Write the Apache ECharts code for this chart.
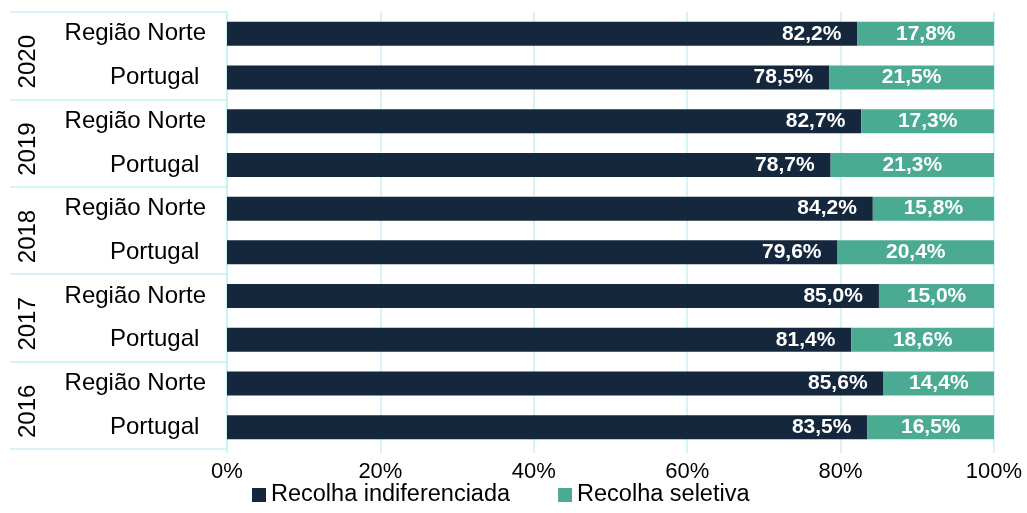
<!DOCTYPE html>
<html>
<head>
<meta charset="utf-8">
<script src="https://cdn.jsdelivr.net/npm/echarts@6/dist/echarts.min.js"></script>
<style>html,body{margin:0;padding:0;background:#fff}#c{width:1027px;height:513px}</style>
</head>
<body>
<div id="c"></div>
<script>
var categories = ['Região Norte','Portugal ','Região Norte','Portugal ','Região Norte','Portugal ','Região Norte','Portugal ','Região Norte','Portugal '];
var years = ['2020','2019','2018','2017','2016'];
var indiferenciada = [82.2,78.5,82.7,78.7,84.2,79.6,85.0,81.4,85.6,83.5];
var seletiva = [17.8,21.5,17.3,21.3,15.8,20.4,15.0,18.6,14.4,16.5];
var xTicks = [0,20,40,60,80,100];

var FONT = '"Liberation Sans"';
var GRID = '#c6f2f5';
function fmt(p){ return p.value.toFixed(1).replace('.', ',') + '%'; }

var chart = echarts.init(document.getElementById('c'));
chart.setOption({
  animation: false,
  textStyle: {fontFamily: FONT},
  grid: {left: 227, right: 33, top: 12, bottom: 64},
  legend: {
    bottom: 1, left: 247,
    itemWidth: 14, itemHeight: 14, itemGap: 48,
    icon: 'rect',
    textStyle: {fontSize: 23.5, color: '#000', fontFamily: FONT},
    data: ['Recolha indiferenciada','Recolha seletiva']
  },
  xAxis: {
    type: 'value', min: xTicks[0], max: xTicks[xTicks.length-1], interval: 20,
    axisLine: {show: false},
    axisTick: {show: true, length: 4, lineStyle: {color: GRID, width: 1.5}},
    splitLine: {show: true, lineStyle: {color: GRID, width: 1.5}},
    axisLabel: {formatter: '{value}%', fontSize: 22, color: '#000', margin: 12, fontFamily: FONT}
  },
  yAxis: [{
    type: 'category', data: categories, inverse: true,
    axisLine: {show: true, lineStyle: {color: GRID, width: 1.5}},
    axisTick: {show: false},
    axisLabel: {fontSize: 24, color: '#000', margin: 21, fontFamily: FONT}
  }, {
    type: 'category', data: years, inverse: true, position: 'left',
    axisLine: {show: false},
    axisTick: {show: true, length: 217, lineStyle: {color: GRID, width: 1.5}},
    axisLabel: {rotate: 90, fontSize: 24, color: '#000', margin: 187, fontFamily: FONT, padding: [0, 12, 0, 0]}
  }],
  series: [{
    name: 'Recolha indiferenciada', type: 'bar', stack: 't', barWidth: 24,
    data: indiferenciada,
    itemStyle: {color: '#15273d'},
    label: {show: true, position: 'insideRight', distance: 16, formatter: fmt,
      color: '#fff', fontWeight: 'bold', fontSize: 21, fontFamily: FONT}
  }, {
    name: 'Recolha seletiva', type: 'bar', stack: 't', barWidth: 24,
    data: seletiva,
    itemStyle: {color: '#4aab92'},
    label: {show: true, position: 'inside', formatter: fmt,
      color: '#fff', fontWeight: 'bold', fontSize: 21, fontFamily: FONT}
  }]
});
</script>
</body>
</html>
